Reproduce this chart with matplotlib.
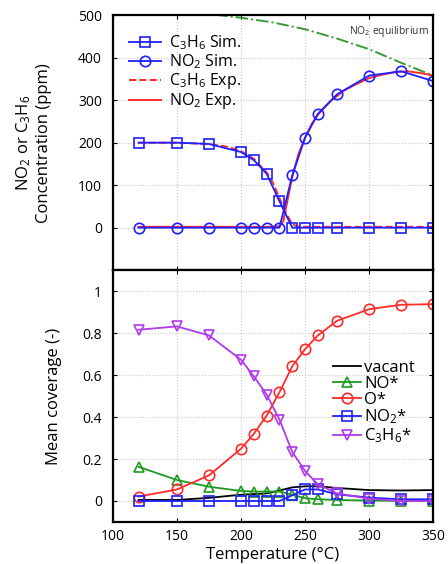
"""NO2 / C3H6 light-off: simulated vs experimental outlet and mean surface coverages."""

import matplotlib

matplotlib.use("Agg")
import matplotlib.pyplot as plt

# simulation temperatures (degC)
temp_sim = [120, 150, 175, 200, 210, 220, 230, 240, 250, 260, 275, 300, 325, 350]

# outlet concentrations (ppm), simulation
c3h6_sim = [200, 200, 197, 178, 159, 127, 62, 0, 0, 0, 0, 0, 0, 0]
no2_sim = [0, 0, 0, 0, 0, 0, 0, 123, 212, 268, 314, 358, 368, 345]

temp_exp_no2 = [120, 150, 175, 200, 220, 230, 233, 236, 240, 245, 250, 255, 260,
                270, 280, 290, 300, 310, 320, 330, 340, 350]
no2_exp = [2, 2, 2, 2, 2, 3, 15, 60, 120, 175, 212, 243, 266,
           298, 322, 338, 352, 360, 366, 368, 364, 358]
temp_exp_c3h6 = [120, 150, 175, 190, 200, 210, 220, 225, 230, 235, 240, 245, 250, 300, 350]
c3h6_exp = [200, 200, 197, 190, 180, 162, 130, 105, 70, 35, 8, 2, 2, 2, 2]

# NO2 thermodynamic equilibrium
temp_eq = [100, 150, 200, 225, 250, 275, 300, 325, 350]
no2_eq = [530, 512, 494, 483, 467, 445, 420, 388, 358]

# mean coverages (-)
cov_vacant = [0.005, 0.005, 0.015, 0.03, 0.033, 0.036, 0.05, 0.065, 0.07, 0.07, 0.062, 0.052, 0.05, 0.052]
cov_no = [0.163, 0.10, 0.068, 0.048, 0.045, 0.045, 0.045, 0.03, 0.013, 0.008, 0.005, 0.002, 0.001, 0.001]
cov_o = [0.021, 0.055, 0.122, 0.249, 0.32, 0.407, 0.518, 0.642, 0.724, 0.789, 0.859, 0.914, 0.935, 0.938]
cov_no2 = [0, 0, 0, 0, 0, 0, 0, 0.027, 0.055, 0.055, 0.032, 0.016, 0.008, 0.008]
cov_c3h6 = [0.816, 0.832, 0.789, 0.673, 0.594, 0.507, 0.388, 0.233, 0.143, 0.079, 0.036, 0.011, 0.0, 0.0]

BLUE = "#1f1fff"
RED = "#ff2a2a"
GREEN = "#1e9a1e"
MAGENTA = "#b03ae8"

plt.rcParams.update(
    {
        "font.family": ["Open Sans", "DejaVu Sans"],
        "font.size": 10,
        "axes.linewidth": 1.6,
        "xtick.direction": "in",
        "ytick.direction": "in",
        "xtick.top": True,
        "ytick.right": True,
        "xtick.major.size": 3,
        "ytick.major.size": 3,
        "mathtext.default": "regular",
    }
)

fig = plt.figure(figsize=(4.48, 5.64), dpi=100)
ax1 = fig.add_axes([0.252, 0.521, 0.715, 0.452])
ax2 = fig.add_axes([0.252, 0.0745, 0.715, 0.4465], sharex=ax1)

mk = dict(markerfacecolor="none", markersize=7.5, markeredgewidth=1.2, linewidth=1.3)

# --- top: concentrations ---
ax1.plot(temp_eq, no2_eq, color="#3a9a3a", linestyle="-.", linewidth=1.4)
ax1.plot(temp_exp_c3h6, c3h6_exp, color=RED, linestyle="--", linewidth=1.4, label="C$_3$H$_6$ Exp.")
ax1.plot(temp_exp_no2, no2_exp, color=RED, linestyle="-", linewidth=1.4, label="NO$_2$ Exp.")
ax1.plot(temp_sim, c3h6_sim, color=BLUE, marker="s", label="C$_3$H$_6$ Sim.", **mk)
ax1.plot(temp_sim, no2_sim, color=BLUE, marker="o", label="NO$_2$ Sim.", **mk)

ax1.set_ylim(-100, 500)
ax1.set_yticks([0, 100, 200, 300, 400, 500])
ax1.set_ylabel("NO$_2$ or C$_3$H$_6$\nConcentration (ppm)", fontsize=12, linespacing=1.25)
ax1.yaxis.set_label_coords(-0.19, 0.5)
ax1.tick_params(labelbottom=False, labelsize=10)
ax1.tick_params(axis="y", pad=8)
ax1.grid(True, linestyle=":", color="#c8c8c8", linewidth=0.8)
ax1.text(0.985, 0.965, "NO$_2$ equilibrium", transform=ax1.transAxes,
         ha="right", va="top", fontsize=7.5, color="#333333")

h, l = ax1.get_legend_handles_labels()
order = [2, 3, 0, 1]
ax1.legend([h[i] for i in order], [l[i] for i in order], loc="upper left",
           bbox_to_anchor=(0.02, 0.965), frameon=False, fontsize=11.5,
           handlelength=2.0, handletextpad=0.5, labelspacing=0.0, borderaxespad=0.2)

# --- bottom: coverages ---
ax2.plot(temp_sim, cov_vacant, color="black", linewidth=1.3, label="vacant")
ax2.plot(temp_sim, cov_no, color=GREEN, marker="^", label="NO*", **mk)
ax2.plot(temp_sim, cov_o, color=RED, marker="o", label="O*", **mk)
ax2.plot(temp_sim, cov_no2, color=BLUE, marker="s", label="NO$_2$*", **mk)
ax2.plot(temp_sim, cov_c3h6, color=MAGENTA, marker="v", label="C$_3$H$_6$*", **mk)

ax2.set_xlim(100, 350)
ax2.set_ylim(-0.1, 1.1)
ax2.set_yticks([0, 0.2, 0.4, 0.6, 0.8, 1])
ax2.set_yticklabels(["0", "0.2", "0.4", "0.6", "0.8", "1"])
ax2.set_xticks([100, 150, 200, 250, 300, 350])
ax2.set_xlabel("Temperature (°C)", fontsize=12, labelpad=2)
ax2.set_ylabel("Mean coverage (-)", fontsize=12)
ax2.yaxis.set_label_coords(-0.16, 0.5)
ax2.tick_params(labelsize=10)
ax2.tick_params(axis="y", pad=8)
ax2.tick_params(axis="x", pad=5)
ax2.grid(True, linestyle=":", color="#c8c8c8", linewidth=0.8)
ax2.legend(loc="center right", bbox_to_anchor=(0.99, 0.475), frameon=False, fontsize=12,
           handlelength=1.7, handletextpad=0.2, labelspacing=0.0)

fig.savefig("out.png", dpi=100)
